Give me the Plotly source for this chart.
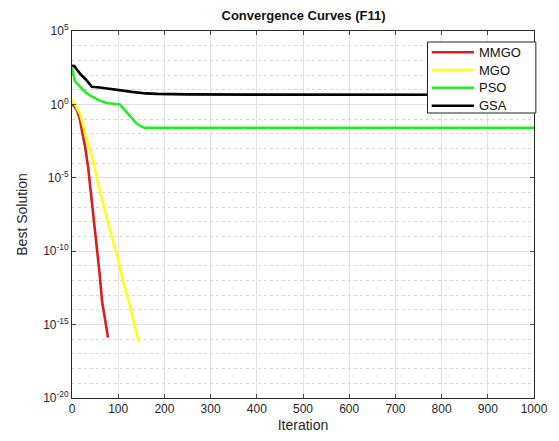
import plotly.graph_objects as go

# Data (iteration, best solution)
mmgo_iter = [0, 4, 11, 17, 22, 28, 35, 43, 48, 54, 60, 65, 71, 75, 78]
mmgo_val = [1.0, 8e-1, 4e-1, 1e-1, 1.3e-2, 1.6e-3, 5e-5, 3e-7, 1e-8, 1e-10, 2.5e-12, 4e-14, 3e-15, 8e-16, 1.3e-16]

mgo_iter = [0, 5, 10, 17, 23, 30, 38, 46, 55, 63, 71, 80, 90, 100, 110, 118, 126, 135, 145]
mgo_val = [2.2, 1.3, 6e-1, 2.5e-1, 5e-2, 6e-3, 1e-3, 1.3e-4, 6e-6, 5e-7, 6e-8, 5e-9, 4e-10, 2.5e-11, 1e-12, 1.3e-13, 1.6e-14, 1e-15, 6e-17]

pso_iter = [0, 3, 6, 12, 20, 30, 40, 46, 60, 75, 90, 104, 112, 125, 140, 150, 158, 1000]
pso_val = [320, 100, 40, 25, 12.5, 6.3, 4.0, 3.2, 1.8, 1.26, 1.12, 1.0, 0.5, 0.16, 0.05, 0.032, 0.025, 0.025]

gsa_iter = [0, 5, 10, 20, 30, 38, 43, 60, 80, 100, 130, 160, 184, 250, 400, 1000]
gsa_val = [450, 400, 250, 100, 50, 22, 16, 14, 11.2, 9, 7.1, 5.6, 5.2, 4.8, 4.6, 4.5]

y_tickvals = [1e-20, 1e-15, 1e-10, 1e-5, 1e0, 1e5]
y_ticktext = ["10<sup>-20</sup>", "10<sup>-15</sup>", "10<sup>-10</sup>", "10<sup>-5</sup>", "10<sup>0</sup>", "10<sup>5</sup>"]
x_tickvals = [0, 100, 200, 300, 400, 500, 600, 700, 800, 900, 1000]

series = [
    ("MMGO", mmgo_iter, mmgo_val, "#d81e1e"),
    ("MGO", mgo_iter, mgo_val, "#ffff1a"),
    ("PSO", pso_iter, pso_val, "#22ee22"),
    ("GSA", gsa_iter, gsa_val, "#000000"),
]

fig = go.Figure()
for name, xs, ys, col in series:
    fig.add_trace(go.Scatter(x=xs, y=ys, mode="lines", name=name, showlegend=False,
                             line=dict(color=col, width=2.6)))

# Hand-built legend box (paper coordinates), matching the compact MATLAB legend
leg_x0, leg_x1, leg_y0, leg_y1 = 0.7695, 1.004, 0.7766, 0.970
leg_rows = [0.942, 0.8937, 0.8455, 0.7965]
fig.add_shape(type="rect", xref="paper", yref="paper", x0=leg_x0, x1=leg_x1,
              y0=leg_y0, y1=leg_y1, fillcolor="white",
              line=dict(color="#222222", width=1), layer="above")
for (name, _, _, col), yy in zip(series, leg_rows):
    fig.add_shape(type="line", xref="paper", yref="paper", x0=0.7786, x1=0.8701,
                  y0=yy, y1=yy, line=dict(color=col, width=2.6), layer="above")
    fig.add_annotation(text=name, xref="paper", yref="paper", x=0.8766, y=yy,
                       xanchor="left", yanchor="middle", showarrow=False,
                       font=dict(size=13, color="#111111"))

font_family = "Liberation Sans, Arial, sans-serif"
fig.update_layout(
    width=559, height=441,
    margin=dict(l=72, r=25, t=31, b=43),
    paper_bgcolor="white", plot_bgcolor="white",
    font=dict(family=font_family, color="#262626", size=12),
    title=dict(text="<b>Convergence Curves (F11)</b>", x=0.543, xanchor="center",
               y=0.965, yanchor="middle", font=dict(size=13, color="#111111")),
    showlegend=False,
)
fig.update_xaxes(
    range=[0, 1000], tickvals=x_tickvals, ticks="inside", ticklen=4,
    showline=True, linecolor="#262626", linewidth=1, mirror="ticks",
    showgrid=True, gridcolor="#e0e0e0", gridwidth=1, zeroline=False,
    title=dict(text="Iteration", font=dict(size=14), standoff=4),
)
fig.update_yaxes(
    type="log", range=[-20, 5], tickvals=y_tickvals, ticktext=y_ticktext,
    ticks="inside", ticklen=4,
    showline=True, linecolor="#262626", linewidth=1, mirror="ticks",
    showgrid=True, gridcolor="#e0e0e0", gridwidth=1, zeroline=False,
    minor=dict(tickmode="linear", tick0=0, dtick=1, showgrid=True,
               gridcolor="#d8d8d8", griddash="dot", gridwidth=1, ticks=""),
    title=dict(text="Best Solution", font=dict(size=14), standoff=12),
)

fig.write_html("out.html", config={"displayModeBar": False},
               post_script="document.body.style.margin='0';document.body.style.overflow='hidden';")
